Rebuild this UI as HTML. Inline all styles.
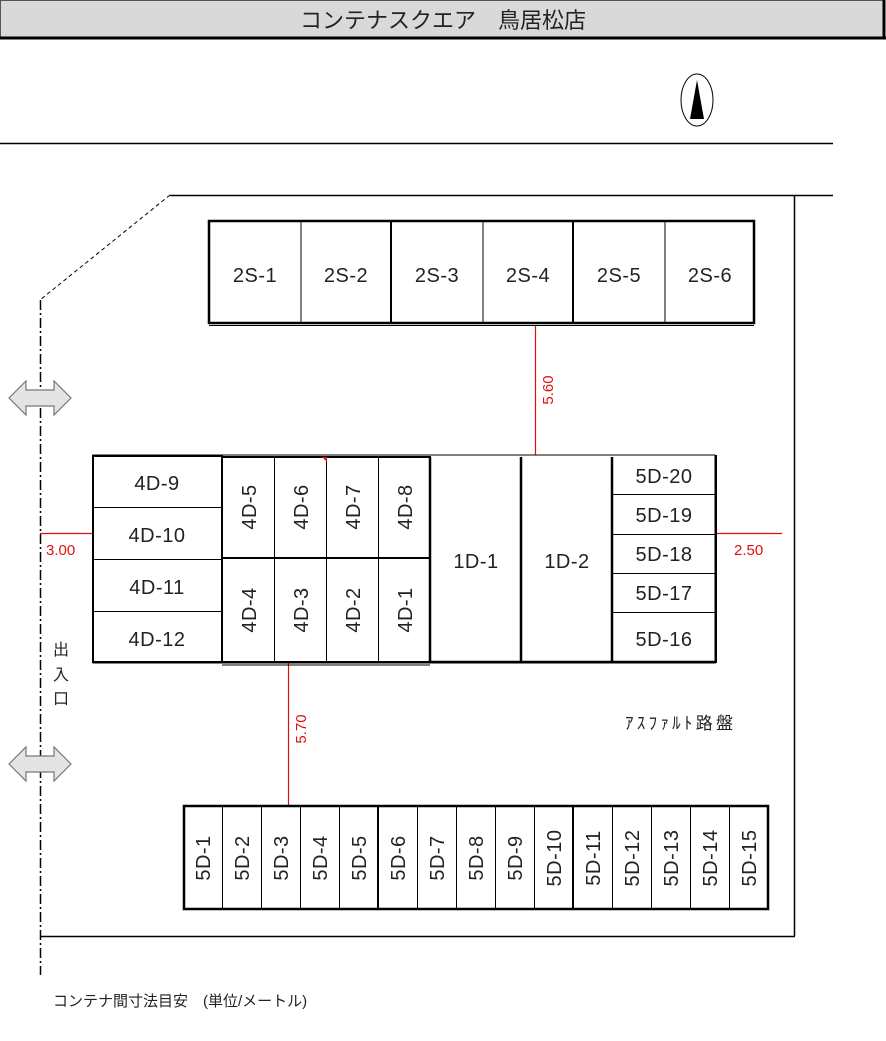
<!DOCTYPE html>
<html><head><meta charset="utf-8"><style>
html,body{margin:0;padding:0;background:#fff}
svg{display:block}
text{font-family:"Liberation Sans","Noto Sans CJK JP",sans-serif;fill:#222}
.r{fill:#e01010}
</style></head><body>
<svg width="886" height="1041" viewBox="0 0 886 1041" xmlns="http://www.w3.org/2000/svg">
<rect x="0.5" y="0.5" width="883" height="37" fill="#d9d9d9" stroke="#555" stroke-width="1"/>
<line x1="0" y1="38" x2="886" y2="38" stroke="#000" stroke-width="3"/>
<line x1="884" y1="0" x2="884" y2="39" stroke="#000" stroke-width="3"/>
<text x="443" y="28" font-size="22" text-anchor="middle" fill="#111">コンテナスクエア　鳥居松店</text>
<ellipse cx="697" cy="100" rx="16" ry="26" fill="#fff" stroke="#000" stroke-width="1"/>
<polygon points="697,80 690,119 704,119" fill="#000"/>
<line x1="0" y1="143.5" x2="833" y2="143.5" stroke="#000" stroke-width="1.5"/>
<line x1="170" y1="195.5" x2="833" y2="195.5" stroke="#000" stroke-width="1.5"/>
<line x1="794.5" y1="195" x2="794.5" y2="936" stroke="#000" stroke-width="1.5"/>
<line x1="40" y1="936.5" x2="795" y2="936.5" stroke="#000" stroke-width="1.5"/>
<line x1="170" y1="195" x2="40" y2="300" stroke="#000" stroke-width="1" stroke-dasharray="4,3"/>
<line x1="40.5" y1="300" x2="40.5" y2="975" stroke="#000" stroke-width="1.5" stroke-dasharray="10,3,2,3"/>
<g fill="#e4e4e4" stroke="#777" stroke-width="1.2">
<polygon points="9,398 26,381 26,390 54,390 54,381 71,398 54,415 54,406 26,406 26,415"/>
<polygon points="9,764 26,747 26,756 54,756 54,747 71,764 54,781 54,772 26,772 26,781"/>
</g>
<text x="53" y="655" font-size="16">出</text>
<text x="53" y="680" font-size="16">入</text>
<text x="53" y="704" font-size="16">口</text>
<g fill="none" stroke="#000">
<rect x="209" y="221" width="545" height="102" stroke-width="2.5"/>
<line x1="209" y1="325.5" x2="754" y2="325.5" stroke-width="1"/>
<line x1="301" y1="221" x2="301" y2="323" stroke-width="1"/>
<line x1="391" y1="221" x2="391" y2="323" stroke-width="2"/>
<line x1="483" y1="221" x2="483" y2="323" stroke-width="1"/>
<line x1="573" y1="221" x2="573" y2="323" stroke-width="2"/>
<line x1="665" y1="221" x2="665" y2="323" stroke-width="1"/>
</g>
<g font-size="20" text-anchor="middle" letter-spacing="0.5">
<text x="255" y="282">2S-1</text><text x="346" y="282">2S-2</text><text x="437" y="282">2S-3</text>
<text x="528" y="282">2S-4</text><text x="619" y="282">2S-5</text><text x="710" y="282">2S-6</text>
</g>
<g stroke="#e01010" stroke-width="1.2">
<line x1="535.5" y1="326" x2="535.5" y2="455"/>
<line x1="288.5" y1="663" x2="288.5" y2="805"/>
<line x1="40" y1="533.5" x2="92" y2="533.5"/>
<line x1="716" y1="533.5" x2="782" y2="533.5"/>
</g>
<g font-size="15">
<text x="46" y="555" class="r">3.00</text>
<text x="734" y="555" class="r">2.50</text>
<text transform="translate(553,390) rotate(-90)" text-anchor="middle" class="r">5.60</text>
<text transform="translate(306,729) rotate(-90)" text-anchor="middle" class="r">5.70</text>
</g>
<g fill="none" stroke="#000">
<rect x="93" y="455" width="622" height="208" stroke-width="1"/>
<rect x="93" y="456" width="129" height="206" stroke-width="2"/>
<line x1="93" y1="507.5" x2="222" y2="507.5"/><line x1="93" y1="559.5" x2="222" y2="559.5"/><line x1="93" y1="611.5" x2="222" y2="611.5"/>
<rect x="222" y="457" width="208" height="205" stroke-width="2"/>
<line x1="274.5" y1="457" x2="274.5" y2="662"/><line x1="326.5" y1="457" x2="326.5" y2="662"/><line x1="378.5" y1="457" x2="378.5" y2="662"/>
<line x1="222" y1="558" x2="430" y2="558" stroke-width="2"/>
<line x1="222" y1="665" x2="430" y2="665" stroke-width="1"/>
<line x1="430" y1="457" x2="430" y2="663" stroke-width="2.5"/>
<line x1="521" y1="457" x2="521" y2="663" stroke-width="2.5"/>
<line x1="612" y1="457" x2="612" y2="663" stroke-width="2.5"/>
<line x1="430" y1="662" x2="716" y2="662" stroke-width="2.5"/>
<line x1="716" y1="455" x2="716" y2="663" stroke-width="2"/>
<line x1="612" y1="494.5" x2="716" y2="494.5"/><line x1="612" y1="534.5" x2="716" y2="534.5"/><line x1="612" y1="573.5" x2="716" y2="573.5"/><line x1="612" y1="612.5" x2="716" y2="612.5"/>
</g>
<polygon points="322,457 327,457 327,462" fill="#e01010"/>
<g font-size="20" text-anchor="middle" letter-spacing="0.5">
<text x="157" y="490">4D-9</text><text x="157" y="542">4D-10</text><text x="157" y="594">4D-11</text><text x="157" y="646">4D-12</text>
<text x="476" y="568">1D-1</text><text x="567" y="568">1D-2</text>
<text x="664" y="483">5D-20</text><text x="664" y="522">5D-19</text><text x="664" y="561">5D-18</text><text x="664" y="600">5D-17</text><text x="664" y="646">5D-16</text>
<text transform="translate(256,507) rotate(-90)">4D-5</text>
<text transform="translate(308,507) rotate(-90)">4D-6</text>
<text transform="translate(360,507) rotate(-90)">4D-7</text>
<text transform="translate(412,507) rotate(-90)">4D-8</text>
<text transform="translate(256,610) rotate(-90)">4D-4</text>
<text transform="translate(308,610) rotate(-90)">4D-3</text>
<text transform="translate(360,610) rotate(-90)">4D-2</text>
<text transform="translate(412,610) rotate(-90)">4D-1</text>
</g>
<text x="625" y="729" font-size="17" textLength="108">ｱｽﾌｧﾙﾄ路盤</text>
<g fill="none" stroke="#000">
<rect x="184" y="806" width="584" height="103" stroke-width="2.5"/>
<line x1="222.5" y1="806" x2="222.5" y2="909"/><line x1="261.5" y1="806" x2="261.5" y2="909"/><line x1="300.5" y1="806" x2="300.5" y2="909"/><line x1="339.5" y1="806" x2="339.5" y2="909"/>
<line x1="378" y1="806" x2="378" y2="909" stroke-width="2"/>
<line x1="417.5" y1="806" x2="417.5" y2="909"/><line x1="456.5" y1="806" x2="456.5" y2="909"/><line x1="495.5" y1="806" x2="495.5" y2="909"/><line x1="534.5" y1="806" x2="534.5" y2="909"/>
<line x1="573" y1="806" x2="573" y2="909" stroke-width="2"/>
<line x1="612.5" y1="806" x2="612.5" y2="909"/><line x1="651.5" y1="806" x2="651.5" y2="909"/><line x1="690.5" y1="806" x2="690.5" y2="909"/><line x1="729.5" y1="806" x2="729.5" y2="909"/>
</g>
<g font-size="20" text-anchor="middle" letter-spacing="0.5">
<text transform="translate(210,858) rotate(-90)">5D-1</text>
<text transform="translate(249,858) rotate(-90)">5D-2</text>
<text transform="translate(288,858) rotate(-90)">5D-3</text>
<text transform="translate(327,858) rotate(-90)">5D-4</text>
<text transform="translate(366,858) rotate(-90)">5D-5</text>
<text transform="translate(405,858) rotate(-90)">5D-6</text>
<text transform="translate(444,858) rotate(-90)">5D-7</text>
<text transform="translate(483,858) rotate(-90)">5D-8</text>
<text transform="translate(522,858) rotate(-90)">5D-9</text>
<text transform="translate(561,858) rotate(-90)">5D-10</text>
<text transform="translate(600,858) rotate(-90)">5D-11</text>
<text transform="translate(639,858) rotate(-90)">5D-12</text>
<text transform="translate(678,858) rotate(-90)">5D-13</text>
<text transform="translate(717,858) rotate(-90)">5D-14</text>
<text transform="translate(756,858) rotate(-90)">5D-15</text>
</g>
<text x="53" y="1006" font-size="15">コンテナ間寸法目安　(単位/メートル)</text>
</svg>
</body></html>
